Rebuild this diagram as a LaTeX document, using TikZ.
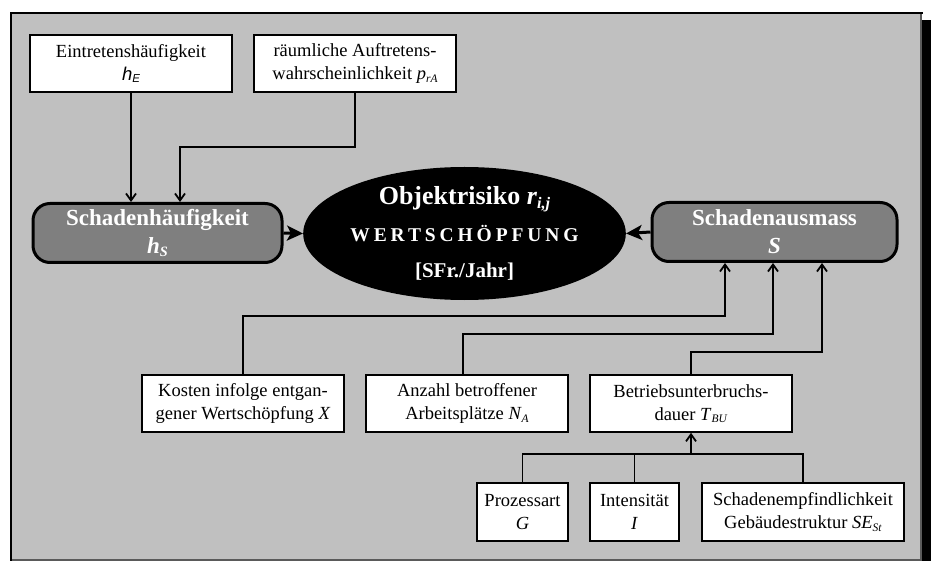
\documentclass[tikz,border=0pt]{standalone}
\usepackage{fontspec}
\setmainfont{Liberation Serif}
\setsansfont{Liberation Sans}
\usepackage{graphicx}
\usetikzlibrary{arrows.meta,shapes.geometric}

\definecolor{panel}{HTML}{C0C0C0}
\definecolor{keybox}{HTML}{7F7F7F}
\definecolor{edgegray}{HTML}{5A5A5A}

% lowered, reduced index text
\newcommand\lo[1]{\raisebox{-0.3ex}{\scalebox{0.62}{#1}}}

\tikzset{
  factor/.style={draw=black, fill=white, line width=1.6pt, inner sep=0pt,
    align=center, minimum height=57pt, font=\fontsize{18.5}{23}\selectfont},
  keynode/.style={draw=black, fill=keybox, line width=3pt, rounded corners=17pt,
    inner sep=0pt, align=center, text=white, minimum height=59pt,
    font=\bfseries\fontsize{23}{28}\selectfont},
  link/.style={line width=1.8pt, -{Straight Barb[length=7pt,width=10pt]}},
  plain/.style={line width=1.8pt},
  mainlink/.style={line width=3pt, -{Stealth[length=16pt,width=15pt,inset=4pt]}},
}

\begin{document}
\begin{tikzpicture}[x=1pt,y=-1pt]
\useasboundingbox (0,0) rectangle (931,561);

% panel with shadow strip
\fill[black] (915,20) rectangle (931,561);
\fill[panel] (11,13) rectangle (921,561);
\draw[edgegray, line width=1.5pt] (921,13) -- (921,560) -- (11,560);
\draw[black, line width=2.5pt] (11,561) -- (11,13) -- (923,13);

% input factors (top)
\node[factor, minimum width=202pt] (occ) at (131,63.5)
  {Eintretenshäufigkeit\\{\sffamily\itshape h\lo{E}}};
\node[factor, minimum width=202pt] (spa) at (355,63.5)
  {räumliche Auftretens-\\wahrscheinlichkeit \textit{p}\lo{\textit{rA}}};

% key quantities
\node[keynode, minimum width=249pt] (freq) at (157.5,233)
  {Schadenhäufigkeit\\\textit{h}\lo{\textit{S}}};
\node[keynode, minimum width=245pt] (ext) at (774.5,232)
  {Schadenausmass\\\textit{S}};

% object risk
\node[ellipse, fill=black, minimum width=303pt, minimum height=133pt, inner sep=0pt,
      text=white, align=center, font=\bfseries\fontsize{21}{36.5}\selectfont]
  (risk) at (464.5,233.5)
  {{\fontsize{26}{36.5}\selectfont Objektrisiko \textit{r}\lo{\textit{i,j}}}\\
   {\fontsize{19.5}{36.5}\selectfont\addfontfeature{LetterSpace=20}WERTSCHÖPFUNG}\\
   {[SFr./Jahr]}};

% damage factors
\node[factor, minimum width=202pt] (cost) at (243,403.5)
  {Kosten infolge entgan-\\gener Wertschöpfung \textit{X}};
\node[factor, minimum width=202pt] (jobs) at (467,403.5)
  {Anzahl betroffener\\Arbeitsplätze \textit{N}\lo{\textit{A}}};
\node[factor, minimum width=202pt] (dur) at (691,403.5)
  {Betriebsunterbruchs-\\dauer \textit{T}\lo{\textit{BU}}};

% interruption factors
\node[factor, minimum width=91pt, minimum height=58pt] (proc) at (522.5,512)
  {Prozessart\\\textit{G}};
\node[factor, minimum width=89pt, minimum height=58pt] (int) at (634.5,512)
  {Intensität\\\textit{I}};
\node[factor, minimum width=202pt, minimum height=58pt] (vul) at (803,512)
  {Schadenempfindlichkeit\\Gebäudestruktur \textit{SE}\lo{\textit{St}}};

% frequency inputs
\draw[link] (occ.south) -- (occ.south |- freq.north);
\coordinate (bend1) at (180,147);
\draw[link] (spa.south) |- (bend1) -- (bend1 |- freq.north);

% into the risk
\draw[mainlink] (freq.east) -- (risk.west);
\draw[mainlink] (ext.west) -- (risk.east);

% extent inputs
\coordinate (up1) at (725,316);
\coordinate (up2) at (773,334);
\coordinate (up3) at (822,352);
\draw[link] (cost.north) |- (up1) -- (up1 |- ext.south);
\draw[link] ([xshift=-4pt]jobs.north) |- (up2) -- (up2 |- ext.south);
\draw[link] (dur.north) |- (up3) -- (up3 |- ext.south);

% duration inputs
\coordinate (join) at (691,454);
\draw[plain] (proc.north) |- (join) -| (vul.north);
\draw[plain] (int.north) -- (int.north |- join);
\draw[link] (join) -- (dur.south);
\end{tikzpicture}
\end{document}
